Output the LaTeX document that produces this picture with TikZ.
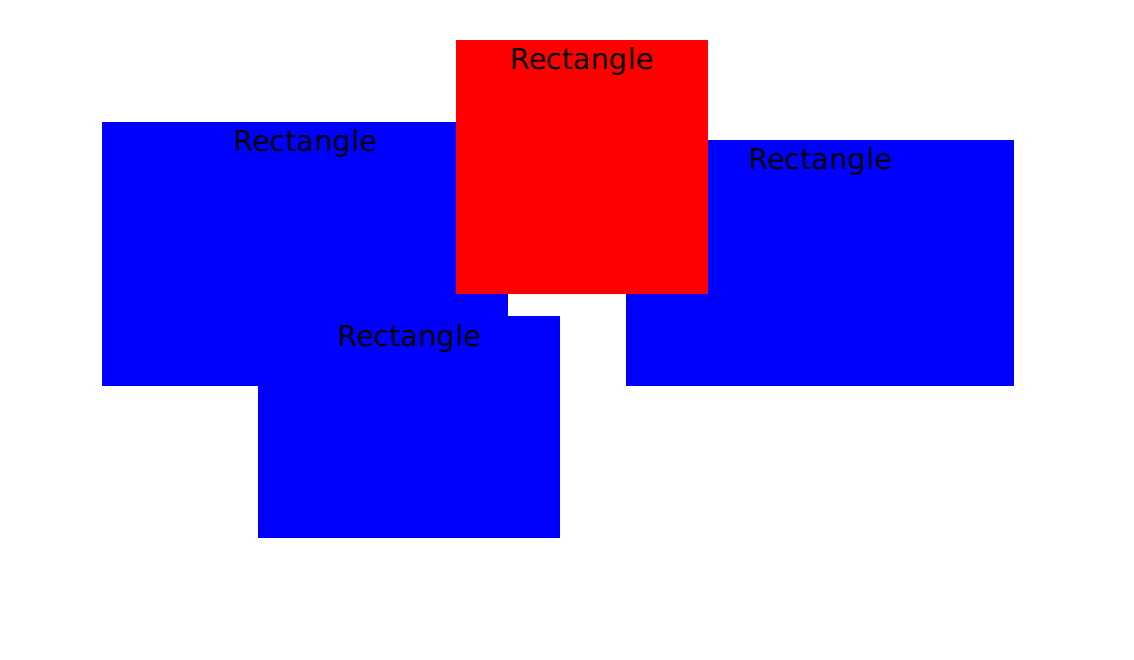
\documentclass[tikz,border=0pt]{standalone}
\usepackage{fontspec}
\setmainfont{DejaVu Sans}
\usepackage{tikz}
\usetikzlibrary{positioning}

\begin{document}
\begin{tikzpicture}[x=1pt, y=-1pt, font=\fontsize{28.8}{32}\selectfont,
    box/.style={inner sep=0pt, outer sep=0pt},
    lbl/.style={inner sep=0pt, anchor=base}]

    % canvas, 1 unit = 1 px, y grows downwards
    \useasboundingbox (0, 0) rectangle (1134, 660);

    % left blue rectangle
    \node[box, fill=blue, minimum width=406pt, minimum height=264pt] (left) at (305, 254) {};
    \node[lbl] (leftlabel) at ([yshift=-30pt]left.north) {Rectangle};

    % right blue rectangle
    \node[box, fill=blue, minimum width=388pt, minimum height=246pt] (right) at (820, 263) {};
    \node[lbl] (rightlabel) at ([yshift=-30pt]right.north) {Rectangle};

    % lower blue rectangle, in front of the left one
    \node[box, fill=blue, minimum width=302pt, minimum height=222pt] (low) at (409, 427) {};
    \node[lbl] (lowlabel) at ([yshift=-30pt]low.north) {Rectangle};

    % red rectangle on top
    \node[box, fill=red, minimum width=252pt, minimum height=254pt] (top) at (582, 167) {};
    \node[lbl] (toplabel) at ([yshift=-30pt]top.north) {Rectangle};

\end{tikzpicture}
\end{document}
